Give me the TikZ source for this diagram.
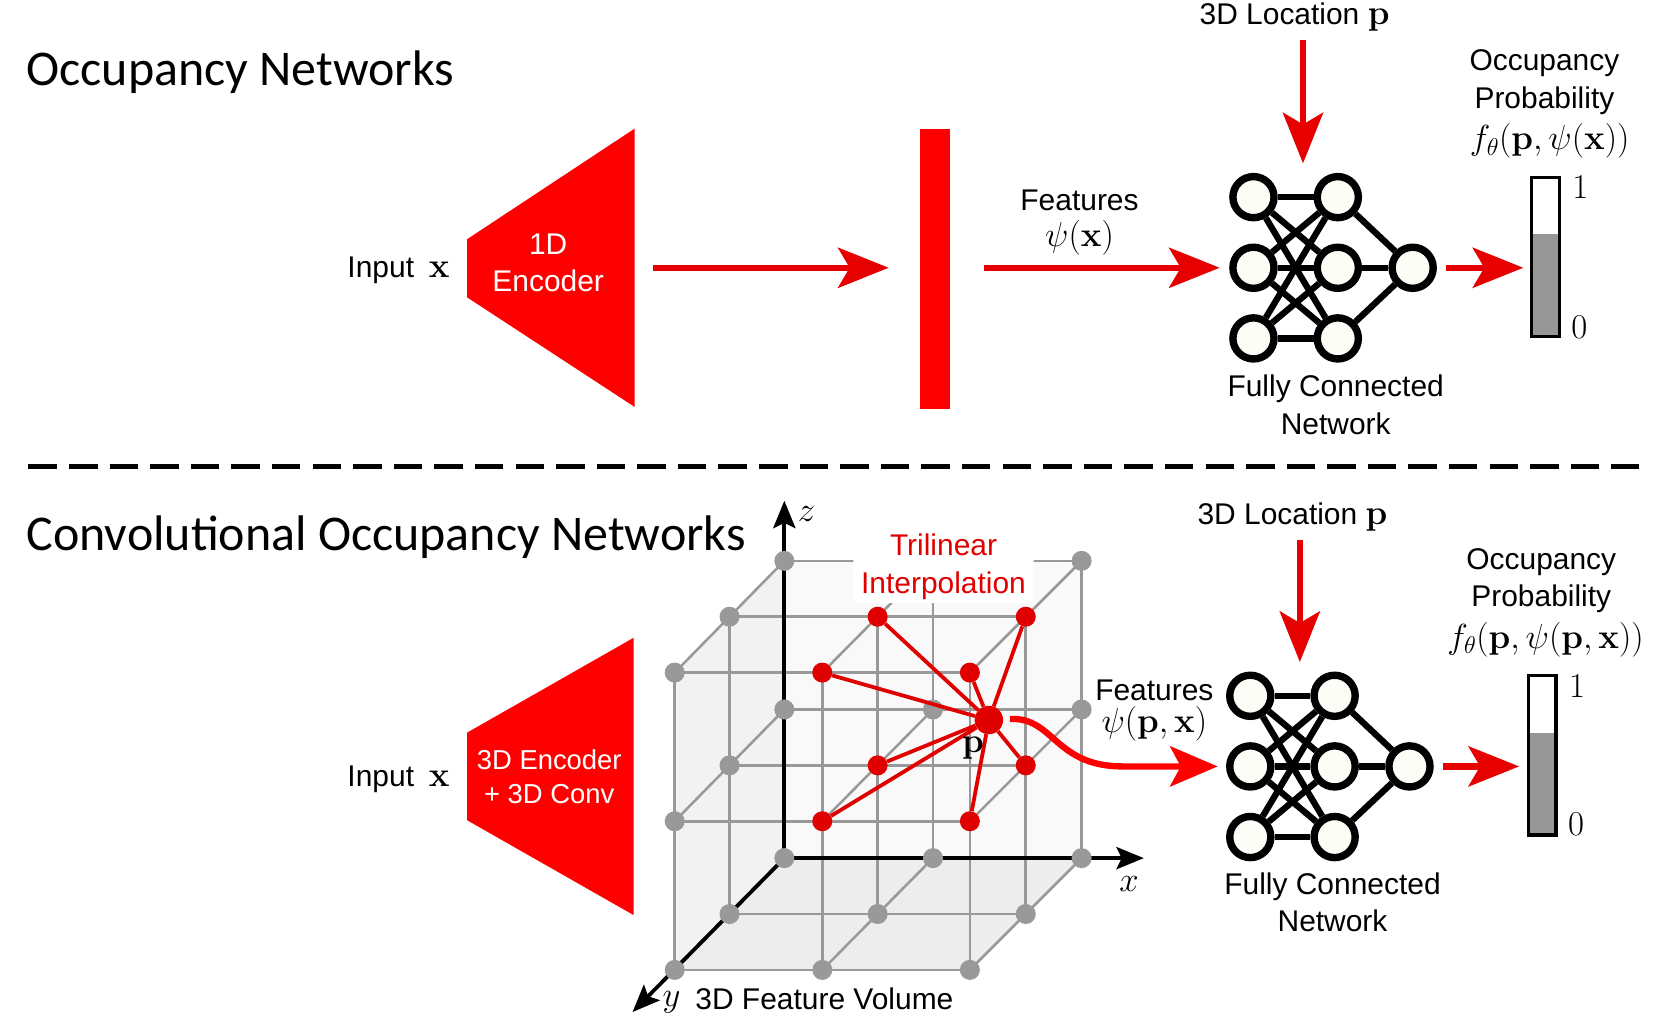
\RequirePackage{fix-cm}
\documentclass[tikz,border=0pt]{standalone}
\usepackage[no-math]{fontspec}
\setmainfont{Liberation Sans}
\newfontfamily\titlefont{Carlito}
\usetikzlibrary{arrows.meta}
\definecolor{arrowred}{HTML}{E60000}
\definecolor{purered}{HTML}{FF0000}
\definecolor{labelred}{HTML}{E00000}
\definecolor{gridgrey}{HTML}{999999}
\definecolor{barfill}{HTML}{969696}
\definecolor{nnfill}{HTML}{FDFDF8}
\newcommand{\mth}[1]{{\fontsize{33}{35}\selectfont$#1$}}
\tikzset{
  txt/.style={font=\fontsize{28.4}{35.5}\selectfont,inner sep=0pt,align=center,text=black},
  wtxt/.style={txt,text=white},
  wtxtsm/.style={font=\fontsize{26}{32}\selectfont,inner sep=0pt,align=center,text=white},
  ttl/.style={font=\titlefont\fontsize{47.4}{52}\selectfont,inner sep=0pt,anchor=west,text=black},
  rtxt/.style={txt,text=labelred},
  redarrow/.style={draw=arrowred,line width=6pt,-{Stealth[length=48pt,width=38pt,inset=11pt,color=arrowred]}},
  redcurve/.style={draw=purered,line width=6pt,-{Stealth[length=45pt,width=38pt,inset=10pt,color=purered]}},
  axis/.style={draw=black,line width=3.6pt,-{Stealth[length=26pt,width=21pt,inset=5pt]}},
  gridline/.style={draw=gridgrey,line width=2.4pt},
  gnode/.style={circle,fill=gridgrey,draw=none,minimum size=19pt,inner sep=0pt},
  rnode/.style={circle,fill=labelred,draw=none,minimum size=19pt,inner sep=0pt},
  pnode/.style={circle,fill=labelred,draw=none,minimum size=27pt,inner sep=0pt},
  redlink/.style={draw=labelred,line width=3.6pt},
  nnode/.style={circle,draw=black,fill=nnfill,line width=7pt,minimum size=39pt,inner sep=0pt},
  nnedge/.style={draw=black,line width=6pt},
  enc/.style={fill=purered,draw=none},
}
\newcommand{\fcnet}[3]{%
  \begin{scope}[shift={(#2,#3)}]
    \node[nnode] (#1a1) at (1189,187) {};
    \node[nnode] (#1a2) at (1189,254) {};
    \node[nnode] (#1a3) at (1189,321) {};
    \node[nnode] (#1b1) at (1269,187) {};
    \node[nnode] (#1b2) at (1269,254) {};
    \node[nnode] (#1b3) at (1269,321) {};
    \node[nnode] (#1c) at (1340,254) {};
  \end{scope}
  \foreach \u in {1,2,3}{\foreach \v in {1,2,3}{\draw[nnedge] (#1a\u) -- (#1b\v);}
    \draw[nnedge] (#1b\u) -- (#1c);}
}
\newcommand{\probbar}[3]{%
  \begin{scope}[shift={(#2,#3)}]
    \fill[white] (1453,168) rectangle (1479,222);
    \fill[barfill] (1453,222) rectangle (1479,319);
    \node[draw=black,line width=3pt,minimum width=26pt,minimum height=151pt,inner sep=0pt] (#1) at (1466,243.5) {};
  \end{scope}
}
\begin{document}
\begin{tikzpicture}[x=1pt,y=-1pt]
\useasboundingbox (0,0) rectangle (1568,972.2);
% Titles and divider
\node[ttl] (t1) at (25,68) {Occupancy Networks};
\node[ttl] (t2) at (25,510) {Convolutional Occupancy Networks};
\coordinate (dl) at (27,442.5); \coordinate (dr) at (1555,442.5);
\draw[black,line width=5pt,dash pattern=on 27pt off 11.5pt] (dl) -- (dr);
% Top row
\node[txt,anchor=center] (in1) at (378,256) {Input\hspace{14pt}\mth{\mathbf{x}}};
\filldraw[enc] (443,227) -- (602,122) -- (602,386) -- (443,282) -- cycle;
\node[wtxt] (e1) at (520,249.5) {1D\\Encoder};
\node[enc,minimum width=28pt,minimum height=266pt,inner sep=0pt] (code) at (887,255) {};
\coordinate (a1s) at (619,254); \coordinate (a1e) at (843,254);
\draw[redarrow] (a1s) -- (a1e);
\coordinate (a2s) at (933,254); \coordinate (a2e) at (1157,254);
\draw[redarrow] (a2s) -- (a2e);
\node[txt] (f1) at (1024,190.5) {Features};
\node[txt] (f1m) at (1024,226) {\mth{\psi(\mathbf{x})}};
\node[txt] (l1) at (1228,16) {3D Location \mth{\mathbf{p}}};
\coordinate (a3s) at (1236,38); \coordinate (a3e) at (1236,155);
\draw[redarrow] (a3s) -- (a3e);
\fcnet{A}{0}{0}
\node[txt] (fc1) at (1267,384) {Fully Connected\\Network};
\coordinate (a4s) at (1372,254); \coordinate (a4e) at (1445,254);
\draw[redarrow] (a4s) -- (a4e);
\node[txt] (o1) at (1465,78) {Occupancy\\Probability};
\node[txt] (m1) at (1470,134) {\mth{f_\theta(\mathbf{p},\psi(\mathbf{x}))}};
\probbar{bar1}{0}{0}
\node[txt] (one1) at (1499,178) {\mth{1}};
\node[txt] (zero1) at (1498,310) {\mth{0}};
% Bottom row
\node[txt] (in2) at (378,739) {Input\hspace{14pt}\mth{\mathbf{x}}};
\filldraw[enc] (443,695) -- (601,605) -- (601,868) -- (443,778) -- cycle;
\node[wtxtsm] (e2) at (521,737) {3D Encoder\\+ 3D Conv};
% Volume faces
\fill[black!2.5] (744,532) -- (1026,532) -- (1026,814) -- (744,814) -- cycle;
\fill[black!5] (744,532) -- (744,814) -- (640,920) -- (640,638) -- cycle;
\fill[black!7] (744,814) -- (1026,814) -- (920,920) -- (640,920) -- cycle;
% Lattice points
\foreach \i in {0,1,2}{\foreach \j in {0,1,2}{\foreach \k in {0,1,2}{
  \coordinate (c\i\j\k) at ({744+(141-0.5*\i)*\j-52*\i},{532+141*\k+53*\i});
}}}
% Lattice lines
\foreach \i in {0,1,2}{\foreach \k in {0,1,2}{\draw[gridline] (c\i0\k) -- (c\i2\k);}}
\foreach \i in {0,1,2}{\foreach \j in {0,1,2}{\draw[gridline] (c\i\j0) -- (c\i\j2);}}
\foreach \j in {0,1,2}{\foreach \k in {0,1,2}{\draw[gridline] (c0\j\k) -- (c2\j\k);}}
% Axes
\coordinate (zend) at (744,475); \coordinate (xend) at (1085,814); \coordinate (yend) at (600,960);
\draw[axis] (c002) -- (zend);
\draw[axis] (c002) -- (xend);
\draw[axis] (c002) -- (yend);
\node[txt] (zl) at (765,488) {\mth{z}};
\node[txt] (xl) at (1071,839) {\mth{x}};
\node[txt] (yl) at (637,951) {\mth{y}};
\node[txt] (vl) at (782,947.5) {3D Feature Volume};
% Label patch
\node[fill=white,rounded corners=4pt,minimum width=171pt,minimum height=76pt,inner sep=0pt] (patch) at (895,534) {};
\node[rtxt] (tl) at (895,537.5) {Trilinear\\Interpolation};
% Grey nodes
\foreach \n in {000,020,001,011,021,002,012,022,100,101,102,112,122,200,201,202,212,222}{
  \node[gnode] (g\n) at (c\n) {};
}
% Red nodes
\foreach \n in {110,120,111,121,210,220,211,221}{
  \node[rnode] (r\n) at (c\n) {};
}
\node[pnode] (pt) at (938,683) {};
\foreach \n in {110,120,111,121,210,220,211,221}{
  \draw[redlink] (r\n) -- (pt);
}
\node[txt,anchor=center] (pl) at (923,710) {\mth{\mathbf{p}}};
\coordinate (cvs) at (958,682); \coordinate (cve) at (1155,727);
\draw[redcurve] (cvs) .. controls (1000,680) and (1000,727) .. (1065,727) -- (cve);
\node[txt] (f2) at (1095,655) {Features};
\node[txt] (f2m) at (1095,687) {\mth{\psi(\mathbf{p},\mathbf{x})}};
\node[txt] (l2) at (1226,490) {3D Location \mth{\mathbf{p}}};
\coordinate (a5s) at (1233,512); \coordinate (a5e) at (1233,628);
\draw[redarrow] (a5s) -- (a5e);
\fcnet{B}{-3}{473}
\node[txt] (fc2) at (1264,856) {Fully Connected\\Network};
\coordinate (a6s) at (1369,727); \coordinate (a6e) at (1441,727);
\draw[redarrow] (a6s) -- (a6e);
\node[txt] (o2) at (1462,551) {Occupancy\\Probability};
\node[txt] (m2) at (1466,607) {\mth{f_\theta(\mathbf{p},\psi(\mathbf{p},\mathbf{x}))}};
\probbar{bar2}{-3}{473}
\node[txt] (one2) at (1496,651) {\mth{1}};
\node[txt] (zero2) at (1495,782) {\mth{0}};
\end{tikzpicture}
\end{document}
